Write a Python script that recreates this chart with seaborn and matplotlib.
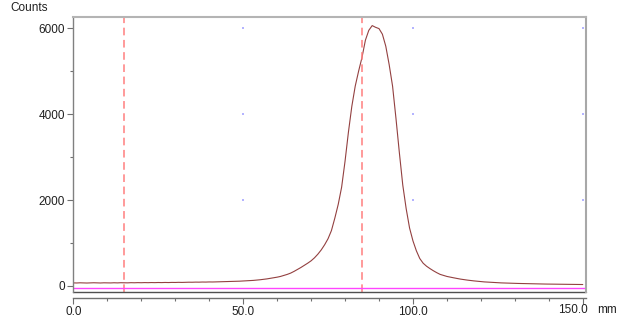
import numpy as np
import pandas as pd
import matplotlib
matplotlib.use("Agg")
import matplotlib.pyplot as plt
import seaborn as sns

# position along the scan (mm) and counts
mm = list(range(0, 151))
counts = [
    72, 70, 74, 71, 69, 73, 75, 72, 70, 74,
    73, 71, 75, 72, 76, 74, 73, 77, 75, 78,
    76, 79, 77, 80, 78, 81, 79, 82, 80, 83,
    82, 85, 83, 86, 88, 87, 90, 89, 92, 91,
    94, 93, 96, 98, 100, 102, 104, 107, 110, 112,
    116, 120, 124, 130, 137, 145, 155, 165, 178, 190,
    205, 222, 245, 270, 300, 340, 385, 430, 480, 530,
    585, 655, 740, 840, 960, 1100, 1290, 1580, 1900, 2300,
    2900, 3580, 4180, 4650, 5000, 5320, 5720, 5950, 6060, 6020,
    5990, 5860, 5580, 5150, 4650, 3900, 3100, 2350, 1800, 1350,
    1050, 820, 640, 530, 460, 405, 355, 310, 270, 245,
    222, 205, 190, 175, 160, 148, 137, 127, 118, 110,
    102, 95, 90, 85, 80, 76, 72, 69, 66, 63,
    61, 59, 57, 55, 53, 51, 50, 48, 47, 45,
    44, 43, 42, 41, 40, 39, 38, 37, 36, 35,
    34,
]
# cursor positions (mm) and baseline level
cursors = [15.0, 85.0]
baseline = -40

x_major = [0, 50, 100, 150]
x_labels = ["0.0", "50.0", "100.0", "150.0"]
x_minor = [10, 20, 30, 40, 60, 70, 80, 90, 110, 120, 130, 140]
y_major = [0, 2000, 4000, 6000]
y_labels = ["0", "2000", "4000", "6000"]
y_minor = [1000, 3000, 5000]

sns.set_style("white")
plt.rcParams['font.family'] = ['Liberation Sans', 'DejaVu Sans']

df = pd.DataFrame({"mm": mm, "counts": counts})

fig = plt.figure(figsize=(6.18, 3.19), dpi=100)
ax = fig.add_axes([73.3 / 618, 27 / 319, (585.5 - 73.3) / 618, 275 / 319])

sns.lineplot(data=df, x="mm", y="counts", ax=ax, color="#934040", linewidth=0.8)

# cursors and baseline
for c in cursors:
    ax.axvline(c, color="#ff7f7f", linewidth=1.1, linestyle=(0, (5, 3)))
ax.axhline(baseline, color="#ff44ff", linewidth=1.0)

# dots at grid intersections
gx, gy = np.meshgrid(x_major[1:], y_major[1:])
ax.scatter(gx.ravel(), gy.ravel(), s=1.5, marker="s", color="#b4b4ff", linewidths=0, zorder=1)

ax.set_xlim(0, 150.8)
ax.set_ylim(-140, 6260)

# last x label is drawn by hand, left of its tick, so it clears the unit
ax.set_xticks(x_major)
ax.set_xticklabels(x_labels[:-1] + [""])
ax.set_xticks(x_minor, minor=True)
ax.set_yticks(y_major)
ax.set_yticklabels(y_labels)
ax.set_yticks(y_minor, minor=True)
ax.set_xlabel("")
ax.set_ylabel("")

ax.tick_params(axis="both", which="major", length=4, width=0.8, color="#707070",
               labelsize=8.5, labelcolor="#202020", pad=2)
ax.tick_params(axis="both", which="minor", length=2, width=0.8, color="#707070")
ax.tick_params(axis="x", which="both", bottom=True)
ax.tick_params(axis="y", which="both", left=True)

# frame: box plus a separate x axis line below it
ax.spines["top"].set_color("#b4b4b4")
ax.spines["top"].set_linewidth(1.5)
ax.spines["right"].set_color("#a8a8a8")
ax.spines["right"].set_linewidth(1.5)
ax.spines["left"].set_color("#808080")
ax.spines["left"].set_linewidth(1.0)
ax.spines["bottom"].set_position(("outward", 4.3))
ax.spines["bottom"].set_color("#707070")
ax.spines["bottom"].set_linewidth(1.0)
ax.plot([0, 1], [0, 0], transform=ax.transAxes, color="#505050", linewidth=1.0, clip_on=False)

ax.annotate(x_labels[-1], xy=(x_major[-1], 0), xycoords=("data", "axes fraction"),
            xytext=(5, -18), textcoords="offset pixels", ha="right", va="center",
            fontsize=8.5, color="#202020", annotation_clip=False)

fig.text(10 / 618, 1 - 8 / 319, "Counts", fontsize=8.5, va="center", ha="left", color="#202020")
fig.text(597 / 618, 1 - 310 / 319, "mm", fontsize=8.5, va="center", ha="left", color="#202020")

fig.savefig("out.png", dpi=100)
